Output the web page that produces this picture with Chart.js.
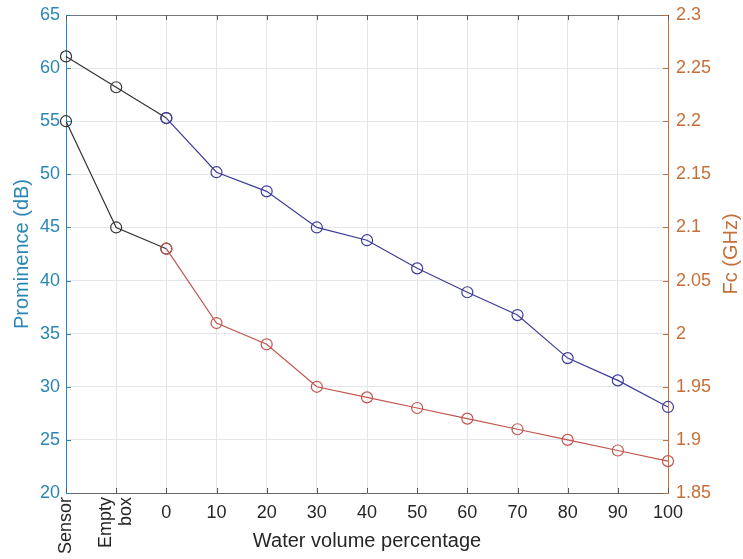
<!DOCTYPE html>
<html>
<head>
<meta charset="utf-8">
<script src="https://cdn.jsdelivr.net/npm/chart.js@4"></script>
<style>
  body { margin: 0; background: #fff; }
</style>
</head>
<body>
<canvas id="chart" width="743" height="559"></canvas>
<script>
// Data
const labels = ["Sensor", "Empty box", "0", "10", "20", "30", "40", "50", "60", "70", "80", "90", "100"];
const promRef = [61.1, 58.2, 55.3, null, null, null, null, null, null, null, null, null, null];
const fcRef = [2.2, 2.1, 2.08, null, null, null, null, null, null, null, null, null, null];
const prominence = [null, null, 55.3, 50.2, 48.4, 45.0, 43.8, 41.15, 38.9, 36.75, 32.7, 30.6, 28.1];
const fc = [null, null, 2.08, 2.01, 1.99, 1.95, 1.94, 1.93, 1.92, 1.91, 1.90, 1.89, 1.88];

const leftColor = "#2a86b4";
const rightColor = "#c66f38";
const gridColor = "#e3e6ea";
const font = "Liberation Sans, Arial, sans-serif";

// Draws the MATLAB-style extras: top border, inward ticks, x labels, axis titles
const axisExtras = {
  id: "axisExtras",
  afterDraw(chart) {
    const { ctx, chartArea: a, scales } = chart;
    const x = scales.x, y = scales.y, y1 = scales.y1;
    ctx.save();
    ctx.lineWidth = 1;

    // top border
    ctx.strokeStyle = "#777";
    ctx.beginPath();
    ctx.moveTo(a.left, a.top + 0.5);
    ctx.lineTo(a.right, a.top + 0.5);
    ctx.stroke();

    // x ticks (top and bottom, inward)
    ctx.strokeStyle = "#555";
    labels.forEach((l, i) => {
      const px = Math.round(x.getPixelForValue(i)) + 0.5;
      ctx.beginPath();
      ctx.moveTo(px, a.top); ctx.lineTo(px, a.top + 5);
      ctx.moveTo(px, a.bottom); ctx.lineTo(px, a.bottom - 5);
      ctx.stroke();
    });

    // y ticks inward
    ctx.strokeStyle = leftColor;
    y.ticks.forEach(t => {
      const py = Math.round(y.getPixelForValue(t.value)) + 0.5;
      ctx.beginPath(); ctx.moveTo(a.left, py); ctx.lineTo(a.left + 5, py); ctx.stroke();
    });
    ctx.strokeStyle = rightColor;
    y1.ticks.forEach(t => {
      const py = Math.round(y1.getPixelForValue(t.value)) + 0.5;
      ctx.beginPath(); ctx.moveTo(a.right, py); ctx.lineTo(a.right - 5, py); ctx.stroke();
    });

    // x tick labels
    ctx.fillStyle = "#262626";
    ctx.font = "18px " + font;
    labels.forEach((l, i) => {
      const px = x.getPixelForValue(i);
      if (isNaN(Number(l))) {
        const lines = l.split(" ");
        ctx.save();
        ctx.translate(px, a.bottom + 4);
        ctx.rotate(-Math.PI / 2);
        ctx.textAlign = "right";
        ctx.textBaseline = "middle";
        lines.forEach((s, k) => {
          ctx.fillText(s, 0, (k - (lines.length - 1) / 2) * 20);
        });
        ctx.restore();
      } else {
        ctx.textAlign = "center";
        ctx.textBaseline = "top";
        ctx.fillText(l, px, a.bottom + 11);
      }
    });

    // axis titles
    ctx.font = "20px " + font;
    ctx.textAlign = "center";
    ctx.textBaseline = "alphabetic";
    ctx.fillText("Water volume percentage", (a.left + a.right) / 2, 547);

    const midY = (a.top + a.bottom) / 2;
    ctx.textBaseline = "middle";
    ctx.fillStyle = leftColor;
    ctx.save();
    ctx.translate(22, midY);
    ctx.rotate(-Math.PI / 2);
    ctx.fillText("Prominence (dB)", 0, 0);
    ctx.restore();

    ctx.fillStyle = rightColor;
    ctx.save();
    ctx.translate(731, midY);
    ctx.rotate(-Math.PI / 2);
    ctx.fillText("Fc (GHz)", 0, 0);
    ctx.restore();

    ctx.restore();
  }
};

function lineSet(data, color, axis, order) {
  return {
    data: data,
    yAxisID: axis,
    order: order,
    borderColor: color,
    borderWidth: 1.2,
    pointStyle: "circle",
    pointRadius: 5.5,
    pointBorderWidth: 1.2,
    pointBorderColor: color,
    pointBackgroundColor: "rgba(0,0,0,0)",
    fill: false,
    tension: 0,
    spanGaps: false
  };
}

const ctx = document.getElementById("chart").getContext("2d");
const chart = new Chart(ctx, {
  type: "line",
  data: {
    labels: labels,
    datasets: [
      lineSet(promRef, "#333333", "y", 2),
      lineSet(fcRef, "#333333", "y1", 2),
      lineSet(prominence, "#3c3c9a", "y", 1),
      lineSet(fc, "#c2554e", "y1", 1)
    ]
  },
  options: {
    responsive: false,
    animation: false,
    layout: { padding: { top: 15, left: 0, right: 0, bottom: 0 } },
    plugins: { legend: { display: false }, tooltip: { enabled: false } },
    scales: {
      x: {
        type: "category",
        offset: false,
        ticks: { display: false },
        grid: { color: gridColor, drawTicks: false },
        border: { display: true, color: "#666" },
        afterFit(scale) { scale.height = 66; scale.paddingLeft = 0; scale.paddingRight = 0; }
      },
      y: {
        position: "left",
        min: 20,
        max: 65,
        ticks: {
          stepSize: 5,
          color: leftColor,
          padding: 6,
          font: { family: font, size: 18 }
        },
        grid: { color: gridColor, drawTicks: false },
        border: { display: true, color: leftColor },
        afterFit(scale) { scale.width = 66; scale.paddingTop = 0; scale.paddingBottom = 0; }
      },
      y1: {
        position: "right",
        min: 1.85,
        max: 2.3,
        ticks: {
          stepSize: 0.05,
          color: rightColor,
          padding: 8,
          font: { family: font, size: 18 },
          callback: v => String(+Number(v).toFixed(2))
        },
        grid: { drawOnChartArea: false, drawTicks: false },
        border: { display: true, color: rightColor },
        afterFit(scale) { scale.width = 75; scale.paddingTop = 0; scale.paddingBottom = 0; }
      }
    }
  },
  plugins: [axisExtras]
});
</script>
</body>
</html>
